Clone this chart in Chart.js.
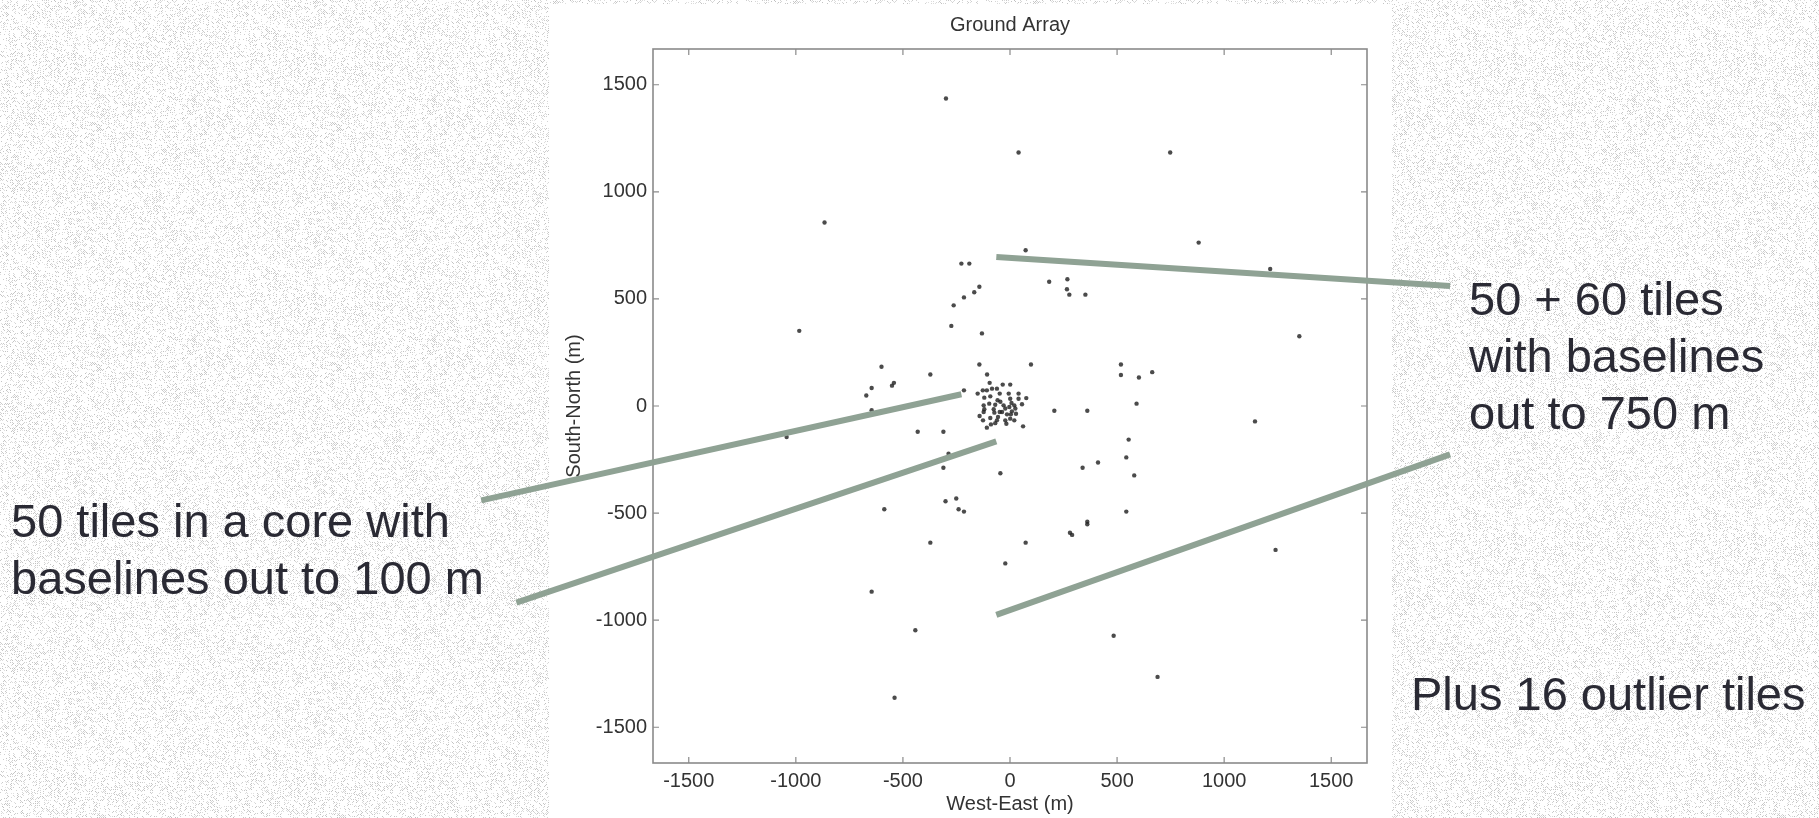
<!DOCTYPE html>
<html>
<head>
<meta charset="utf-8">
<title>Ground Array</title>
<script src="https://cdn.jsdelivr.net/npm/chart.js@4.4.1/dist/chart.umd.min.js"></script>
<style>
  html, body { margin: 0; padding: 0; background: #fff; overflow: hidden; }
  #wrap { position: relative; width: 1819px; height: 818px; }
</style>
</head>
<body>
<div id="wrap"><canvas id="arrayCanvas" width="1819" height="818"></canvas></div>
<script>
// tile positions in metres (east, north)
var coreEast = [-95, -151, -127, -108, -84, -61, -34, 1, -48, -6, 40, 76, -120, -92, -58, -45, 1, 7, 40, -123,
  -97, -120, -76, -3, 20, -123, -73, 9, 28, -142, -126, -92, -61, -108, -89, -69, -22, 1, 20, -17,
  -37, -14, -56, 25, 4, -22, -48, 56, -69, -30];
var coreNorth = [108, 58, 73, 73, 81, 81, 100, 100, 58, 58, 58, 37, 39, 45, 27, 20, 34, 14, 34, 3,
  11, -15, -15, -5, 3, -28, -31, -25, -36, -47, -67, -56, -67, -101, -86, -80, -67, -59, -67, -83,
  -28, -39, -51, -12, -39, -12, -28, 8, 6, 3];

var outerEast = [-299, -866, -227, -190, -143, 40, 748, 881, 1215, 73, 183, 268, 266, 277, 352, 1351, 98, 518,
  518, 602, 664, 591, 207, 361, 1144, 61, 554, 543, 411, 339, 580, 543, 361, 361, -45, -167, -215, -263,
  -274, -131, -984, -600, -372, -143, -107, -646, -551, -542, -671, -215, -646, -1043, -431, -311, -287,
  -311, -301, -251, -587, -240, -215, -372, -22, -646, -442, -539, 73, 280, 290, 1240, 484, 689];
var outerNorth = [1436, 857, 665, 665, 557, 1184, 1184, 763, 640, 727, 580, 592, 545, 520, 520, 326, 194, 194,
  145, 133, 158, 11, -22, -22, -72, -95, -157, -240, -264, -288, -324, -493, -540, -552, -314, 531, 507, 470,
  374, 339, 351, 183, 147, 194, 147, 84, 95, 108, 49, 73, -20, -145, -120, -120, -223,
  -288, -445, -432, -482, -482, -493, -638, -735, -867, -1047, -1362, -638, -592, -602, -672, -1073, -1265];

var tickValues = [-1500, -1000, -500, 0, 500, 1000, 1500];
var axisLimit = 1667;

// callout lines, end points in metres
var calloutLines = [
  [[-64, 696], [2055, 560]],
  [[-64, -975], [2055, -226]],
  [[-2469, -441], [-227, 55]],
  [[-2305, -918], [-64, -165]]
];

var calloutText = [
  { x: 1469, y: 315, lines: ['50 + 60 tiles', 'with baselines', 'out to 750 m'] },
  { x: 11, y: 537, lines: ['50 tiles in a core with', 'baselines out to 100 m'] },
  { x: 1411, y: 710, lines: ['Plus 16 outlier tiles'] }
];

function toPoints(xs, ys) {
  return xs.map(function (x, i) { return { x: x, y: ys[i] }; });
}

// speckled paper tile for the page background
function makeTexture() {
  var size = 240;
  var tile = document.createElement('canvas');
  tile.width = size; tile.height = size;
  var tctx = tile.getContext('2d');
  var img = tctx.createImageData(size, size);
  var seed = 12345;
  function rnd() {
    seed = seed + 0x6D2B79F5 | 0;
    var t = Math.imul(seed ^ seed >>> 15, 1 | seed);
    t = t + Math.imul(t ^ t >>> 7, 61 | t) ^ t;
    return ((t ^ t >>> 14) >>> 0) / 4294967296;
  }
  for (var y = 0; y < size; y++) {
    for (var x = 0; x < size; x++) {
      var i = (y * size + x) * 4;
      var g = 255;
      if ((x + y) % 2 === 0 && rnd() < 0.34) g = 192 + Math.floor(rnd() * 35);
      img.data[i] = img.data[i + 1] = img.data[i + 2] = g;
      img.data[i + 3] = 255;
    }
  }
  tctx.putImageData(img, 0, 0);
  return tile;
}
var texture = makeTexture();

var pagePlugin = {
  id: 'page',
  beforeDraw: function (chart) {
    var ctx = chart.ctx;
    ctx.save();
    ctx.fillStyle = ctx.createPattern(texture, 'repeat');
    ctx.fillRect(0, 0, chart.width, chart.height);
    ctx.fillStyle = '#ffffff';
    ctx.fillRect(549, 4, 843, chart.height - 4);
    ctx.restore();
  },
  beforeDatasetsDraw: function (chart) {
    var ctx = chart.ctx, a = chart.chartArea;
    var xs = chart.scales.x, ys = chart.scales.y;
    ctx.save();
    ctx.strokeStyle = '#8a8a8a';
    ctx.lineWidth = 1.6;
    ctx.strokeRect(a.left, a.top, a.right - a.left, a.bottom - a.top);
    ctx.lineWidth = 1.2;
    ctx.beginPath();
    tickValues.forEach(function (v) {
      var px = xs.getPixelForValue(v);
      ctx.moveTo(px, a.bottom); ctx.lineTo(px, a.bottom - 6);
      ctx.moveTo(px, a.top); ctx.lineTo(px, a.top + 6);
      var py = ys.getPixelForValue(v);
      ctx.moveTo(a.left, py); ctx.lineTo(a.left + 6, py);
      ctx.moveTo(a.right, py); ctx.lineTo(a.right - 6, py);
    });
    ctx.stroke();
    ctx.restore();
  },
  afterDraw: function (chart) {
    var ctx = chart.ctx;
    var xs = chart.scales.x, ys = chart.scales.y;
    ctx.save();
    ctx.strokeStyle = '#8fa294';
    ctx.lineWidth = 6;
    calloutLines.forEach(function (seg) {
      ctx.beginPath();
      ctx.moveTo(xs.getPixelForValue(seg[0][0]), ys.getPixelForValue(seg[0][1]));
      ctx.lineTo(xs.getPixelForValue(seg[1][0]), ys.getPixelForValue(seg[1][1]));
      ctx.stroke();
    });
    ctx.fillStyle = '#2a2a34';
    ctx.font = '47px "Liberation Sans", Arial, sans-serif';
    ctx.textBaseline = 'alphabetic';
    ctx.textAlign = 'left';
    calloutText.forEach(function (block) {
      block.lines.forEach(function (line, i) {
        ctx.fillText(line, block.x, block.y + i * 57);
      });
    });
    ctx.restore();
  }
};

var tickFont = { family: '"Liberation Sans", Arial, sans-serif', size: 20 };

var ctx = document.getElementById('arrayCanvas').getContext('2d');
var arrayChart = new Chart(ctx, {
  type: 'scatter',
  data: {
    datasets: [{
      label: 'core',
      data: toPoints(coreEast, coreNorth),
      pointRadius: 2.2,
      pointBackgroundColor: 'rgba(30,30,30,0.8)',
      pointBorderWidth: 0
    }, {
      label: 'outer',
      data: toPoints(outerEast, outerNorth),
      pointRadius: 2.2,
      pointBackgroundColor: 'rgba(30,30,30,0.8)',
      pointBorderWidth: 0
    }]
  },
  options: {
    responsive: false,
    animation: false,
    layout: { padding: { left: 549, right: 452, top: 0, bottom: 0 } },
    plugins: {
      legend: { display: false },
      tooltip: { enabled: false },
      title: {
        display: true,
        text: 'Ground Array',
        fullSize: false,
        color: '#333',
        font: { family: tickFont.family, size: 20, weight: 'normal' },
        padding: { top: 13, bottom: 12 }
      }
    },
    scales: {
      x: {
        type: 'linear',
        min: -axisLimit,
        max: axisLimit,
        afterBuildTicks: function (scale) {
          scale.ticks = tickValues.map(function (v) { return { value: v }; });
        },
        afterFit: function (scale) { scale.height = 55; },
        grid: { display: false, drawTicks: false },
        border: { display: false },
        ticks: {
          color: '#333',
          font: tickFont,
          padding: 6,
          maxRotation: 0,
          callback: function (v) { return String(v); }
        },
        title: {
          display: true,
          text: 'West-East (m)',
          color: '#333',
          font: tickFont,
          padding: { top: 0, bottom: 2 }
        }
      },
      y: {
        type: 'linear',
        min: -axisLimit,
        max: axisLimit,
        afterBuildTicks: function (scale) {
          scale.ticks = tickValues.map(function (v) { return { value: v }; });
        },
        afterFit: function (scale) { scale.width = 104; },
        grid: { display: false, drawTicks: false },
        border: { display: false },
        ticks: {
          color: '#333',
          font: tickFont,
          padding: 6,
          callback: function (v) { return String(v); }
        },
        title: {
          display: true,
          text: 'South-North (m)',
          color: '#333',
          font: tickFont,
          padding: { top: 13, bottom: 0 }
        }
      }
    }
  },
  plugins: [pagePlugin]
});
</script>
</body>
</html>
